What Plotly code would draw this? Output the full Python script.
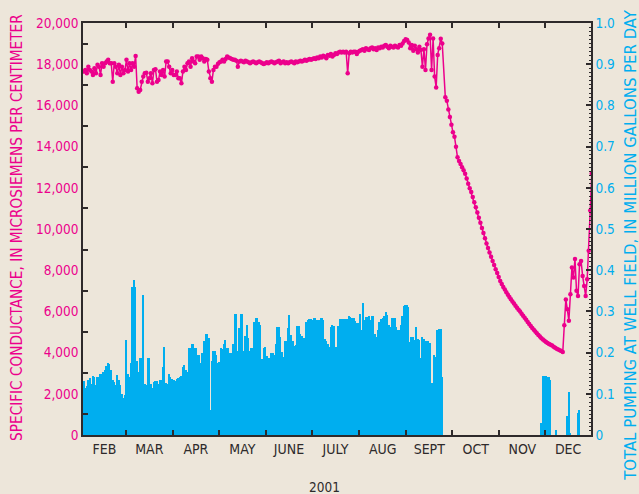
import pandas as pd
import plotly.graph_objects as go

# Daily specific conductance (microsiemens per centimeter), 2001, starting Feb 1
cond_feb = [17640, 17720, 17560, 17880, 17720, 17640, 17480, 17800, 17560, 17970,
            17880, 17480, 18050, 17880, 18050, 18130, 18210, 18050, 18050, 17150,
            18050, 17880, 17560, 17970, 17480, 17880, 17560, 17720]
cond_mar = [18210, 17640, 18050, 17720, 18050, 17880, 18400, 16830, 16660, 16750,
            17150, 17400, 17560, 17590, 17150, 17320, 17560, 17070, 17720, 17760,
            17150, 17230, 17640, 17480, 17720, 17400, 18130, 18130, 17880, 17560,
            17720]
cond_apr = [17480, 17480, 17640, 17320, 17320, 17070, 17640, 17880, 17720, 18050,
            18130, 17880, 18290, 18130, 18050, 18370, 18370, 18210, 18370, 18290,
            18130, 18250, 18210, 17640, 17320, 17150, 17720, 17880, 17880, 18020]
cond_may = [18090, 18130, 18210, 18130, 18250, 18370, 18330, 18290, 18250, 18210,
            18210, 18170, 17880, 18130, 18170, 18130, 18090, 18170, 18130, 18090,
            18050, 18090, 18130, 18090, 18050, 18090, 18130, 18090, 18050, 18010,
            18050]
cond_jun = [18090, 18050, 18090, 18130, 18090, 18050, 18090, 18130, 18170, 18050,
            18090, 18130, 18050, 18090, 18050, 18090, 18130, 18090, 18050, 18130,
            18090, 18130, 18170, 18130, 18170, 18210, 18170, 18210, 18250, 18210]
cond_jul = [18250, 18290, 18250, 18330, 18290, 18370, 18330, 18410, 18370, 18290,
            18450, 18410, 18490, 18370, 18450, 18530, 18490, 18570, 18610, 18570,
            18610, 18570, 18610, 17560, 18530, 18610, 18570, 18610, 18610, 18490,
            18610]
cond_aug = [18650, 18690, 18730, 18650, 18770, 18730, 18690, 18770, 18810, 18730,
            18770, 18690, 18810, 18770, 18850, 18810, 18890, 18930, 18850, 18770,
            18890, 18850, 18810, 18890, 18850, 18810, 18930, 18890, 19010, 19130,
            19210]
cond_sep = [19170, 19050, 18770, 18930, 18650, 18890, 18730, 18570, 18850, 18690,
            17880, 18730, 17720, 18970, 19250, 19430, 17720, 19250, 17400, 16870,
            18450, 18780, 19240, 19000, None, 16400, 16220, 15800, 15440, 15060]
cond_oct = [14700, 14480, 13990, 13480, 13300, 13160, 13000, 12850, 12680, 12450,
            12200, 11980, 11800, 11550, 11300, 11050, 10800, 10550, 10300, 10050,
            9800, 9550, 9300, 9080, 8860, 8650, 8450, 8250, 8050, 7860, 7670]
cond_nov = [7480, 7330, 7190, 7060, 6930, 6810, 6700, 6590, 6480, 6380,
            6280, 6180, 6080, 5990, 5890, 5790, 5690, 5590, 5490, 5390,
            5290, 5200, 5110, 5020, 4940, 4860, 4780, 4700, 4630, 4570]
cond_dec = [4510, 4460, 4420, 4380, 4340, 4290, 4240, 4190, 4150, 4110,
            4080, 4030, 5330, 6580, 6100, 5550, 6830, 8130, 7640, 8540,
            7000, 6750, 8290, 8450, 7720, 7230, 6750, 7560, 8950, 10900,
            12700]

# Daily total pumping at the well field (million gallons per day), starting Feb 1
pump_feb = [0.131, 0.113, 0.118, 0.134, 0.139, 0.124, 0.143, 0.142, 0.121, 0.141,
            0.141, 0.148, 0.148, 0.153, 0.158, 0.168, 0.174, 0.172, 0.158, 0.134,
            0.129, 0.121, 0.146, 0.133, 0.121, 0.099, 0.089, 0.097]
pump_mar = [0.231, 0.149, 0.141, 0.175, 0.360, 0.376, 0.360, 0.180, 0.152, 0.186,
            0.186, 0.340, 0.125, 0.121, 0.186, 0.186, 0.125, 0.115, 0.129, 0.131,
            0.131, 0.125, 0.134, 0.134, 0.164, 0.214, 0.127, 0.125, 0.149, 0.142,
            0.135]
pump_apr = [0.133, 0.131, 0.135, 0.139, 0.142, 0.143, 0.165, 0.170, 0.158, 0.153,
            0.210, 0.210, 0.221, 0.221, 0.210, 0.210, 0.194, 0.194, 0.174, 0.198,
            0.228, 0.244, 0.244, 0.235, 0.061, 0.180, 0.204, 0.204, 0.194, 0.174]
pump_may = [0.178, 0.212, 0.209, 0.220, 0.231, 0.212, 0.212, 0.200, 0.200, 0.222,
            0.294, 0.294, 0.205, 0.259, 0.293, 0.293, 0.204, 0.240, 0.267, 0.236,
            0.205, 0.212, 0.212, 0.275, 0.283, 0.283, 0.275, 0.267, 0.184, 0.210,
            0.214]
pump_jun = [0.192, 0.187, 0.187, 0.198, 0.198, 0.194, 0.220, 0.261, 0.261, 0.239,
            0.202, 0.190, 0.229, 0.229, 0.260, 0.291, 0.243, 0.229, 0.217, 0.218,
            0.265, 0.265, 0.245, 0.241, 0.236, 0.235, 0.275, 0.279, 0.281, 0.281]
pump_jul = [0.280, 0.285, 0.283, 0.279, 0.279, 0.279, 0.283, 0.279, 0.233, 0.228,
            0.220, 0.213, 0.261, 0.268, 0.264, 0.213, 0.213, 0.265, 0.281, 0.281,
            0.281, 0.281, 0.281, 0.281, 0.290, 0.287, 0.283, 0.283, 0.277, 0.271,
            0.271]
pump_aug = [0.294, 0.255, 0.320, 0.279, 0.286, 0.286, 0.290, 0.279, 0.289, 0.289,
            0.244, 0.239, 0.255, 0.275, 0.281, 0.285, 0.290, 0.299, 0.291, 0.267,
            0.263, 0.285, 0.285, 0.283, 0.261, 0.255, 0.256, 0.268, 0.290, 0.313,
            0.316]
pump_sep = [0.316, 0.311, 0.226, 0.239, 0.239, 0.230, 0.261, 0.233, 0.230, 0.186,
            0.239, 0.233, 0.227, 0.227, 0.227, 0.223, 0.127, 0.127, 0.194, 0.190,
            0.255, 0.257, 0.257, 0.142, 0, 0, 0, 0, 0, 0]
pump_oct = [0, 0, 0, 0, 0, 0, 0, 0, 0, 0, 0, 0, 0, 0, 0, 0,
            0, 0, 0, 0, 0, 0, 0, 0, 0, 0, 0, 0, 0, 0, 0]
pump_nov = [0, 0, 0, 0, 0, 0, 0, 0, 0, 0, 0, 0, 0, 0, 0,
            0, 0, 0, 0, 0, 0, 0, 0, 0, 0, 0, 0, 0.030, 0.143, 0.143]
pump_dec = [0.143, 0.142, 0.140, 0.134, 0, 0, 0, 0.012, 0, 0,
            0, 0, 0, 0, 0.046, 0.105, 0.005, 0, 0, 0,
            0, 0.053, 0.061, 0, 0, 0, 0, 0, 0, 0, 0]

month_labels = ["FEB", "MAR", "APR", "MAY", "JUNE", "JULY", "AUG",
                "SEPT", "OCT", "NOV", "DEC"]
cond_ticks = [0, 2000, 4000, 6000, 8000, 10000, 12000, 14000, 16000, 18000, 20000]
cond_marks = [1000, 3000, 5000, 7000, 9000, 11000, 13000, 15000, 17000, 19000]
pump_ticks = [0, 0.1, 0.2, 0.3, 0.4, 0.5, 0.6, 0.7, 0.8, 0.9, 1.0]
pump_labels = ["0", "0.1", "0.2", "0.3", "0.4", "0.5", "0.6", "0.7", "0.8", "0.9", "1.0"]

conductance = (cond_feb + cond_mar + cond_apr + cond_may + cond_jun + cond_jul
               + cond_aug + cond_sep + cond_oct + cond_nov + cond_dec)
pumping = (pump_feb + pump_mar + pump_apr + pump_may + pump_jun + pump_jul
           + pump_aug + pump_sep + pump_oct + pump_nov + pump_dec)

start = pd.Timestamp("2001-02-01")
days = pd.date_range(start, periods=len(conductance), freq="D") + pd.Timedelta(hours=12)
pump_days = pd.date_range(start, periods=len(pumping), freq="D") + pd.Timedelta(hours=12)

month_starts = pd.date_range("2001-02-01", "2001-12-01", freq="MS")
month_mids = [m + (m + pd.offsets.MonthBegin(1) - m) / 2 for m in month_starts]
month_mids[-1] = pd.Timestamp("2001-12-16")

MAGENTA = "#EC008C"
CYAN = "#00AEEF"
INK = "#2E2A2B"
BG = "#EDE6DA"
FONT = "DejaVu Sans Condensed, Liberation Sans Narrow, sans-serif"

fig = go.Figure()
fig.add_trace(go.Scatter(
    x=days, y=conductance, mode="lines+markers", connectgaps=True,
    line=dict(color=MAGENTA, width=1.5),
    marker=dict(color=MAGENTA, size=4.5),
    yaxis="y", showlegend=False,
))
fig.add_trace(go.Bar(
    x=pump_days, y=pumping, width=86400000,
    marker=dict(color=CYAN, line=dict(width=0)),
    yaxis="y2", showlegend=False, hoverinfo="skip",
))

fig.update_layout(
    width=639, height=494,
    margin=dict(l=83, r=48, t=23, b=59),
    paper_bgcolor=BG, plot_bgcolor=BG,
    bargap=0,
    font=dict(family=FONT, color=INK),
    xaxis=dict(
        type="date",
        range=["2001-02-01", "2001-12-31"],
        tickmode="array", tickvals=month_mids, ticktext=month_labels,
        ticks="inside", ticklen=0, tickfont=dict(size=14, color=INK),
        minor=dict(tickmode="array", tickvals=list(month_starts[1:]),
                   ticks="inside", ticklen=5, tickwidth=1.5, tickcolor=INK),
        showline=True, linecolor=INK, linewidth=2, mirror="ticks",
        showgrid=False, zeroline=False,
    ),
    yaxis=dict(
        side="left", range=[0, 20000],
        tickmode="array", tickvals=cond_ticks,
        ticktext=[f"{v:,}" for v in cond_ticks],
        ticks="inside", ticklen=0, tickfont=dict(size=13.5, color=MAGENTA),
        minor=dict(tickmode="array", tickvals=cond_marks,
                   ticks="inside", ticklen=5, tickwidth=1.5, tickcolor=INK),
        showline=True, linecolor=INK, linewidth=1.5,
        showgrid=False, zeroline=False,
    ),
    yaxis2=dict(
        side="right", overlaying="y", range=[0, 1.0],
        tickmode="array", tickvals=pump_ticks, ticktext=pump_labels,
        ticks="inside", ticklen=5, tickwidth=1.5, tickcolor=INK,
        minor=dict(dtick=0.01, ticks="inside", ticklen=2.5, tickwidth=1, tickcolor=INK),
        tickfont=dict(size=13.5, color=CYAN),
        showline=True, linecolor=INK, linewidth=1.5,
        showgrid=False, zeroline=False,
    ),
    annotations=[
        dict(text="SPECIFIC CONDUCTANCE, IN MICROSIEMENS PER CENTIMETER",
             xref="paper", yref="paper", x=-0.13, y=0.505, textangle=-90,
             xanchor="center", yanchor="middle", showarrow=False,
             font=dict(size=15.2, color=MAGENTA, family=FONT)),
        dict(text="TOTAL PUMPING AT WELL FIELD, IN MILLION GALLONS PER DAY",
             xref="paper", yref="paper", x=1.079, y=0.462, textangle=-90,
             xanchor="center", yanchor="middle", showarrow=False,
             font=dict(size=16.6, color=CYAN, family=FONT)),
        dict(text="2001", xref="paper", yref="paper", x=0.476, y=-0.126,
             xanchor="center", yanchor="middle", showarrow=False,
             font=dict(size=13.5, color=INK, family=FONT)),
    ],
)

fig.write_html("out.html")
